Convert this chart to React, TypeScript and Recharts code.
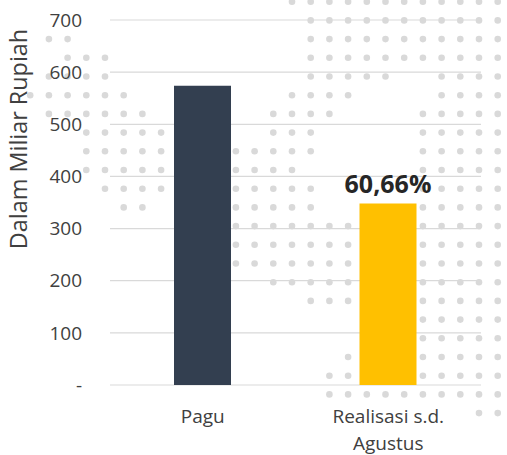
import React from "react";
import { BarChart, Bar, XAxis, YAxis, CartesianGrid, LabelList, Cell } from "recharts";

// data (Miliar Rupiah)
const categories = ["Pagu", "Realisasi s.d. Agustus"];
const categoryLines = [["Pagu"], ["Realisasi s.d.", "Agustus"]];
const amounts = [574, 348];
const pctLabels = ["", "60,66%"];
const barColors = ["#333F50", "#FFC000"];
const yTicks = [0, 100, 200, 300, 400, 500, 600, 700];
const yTitle = "Dalam Miliar Rupiah";

const data = categories.map((name, i) => ({ name, value: amounts[i], pct: pctLabels[i] }));

// decorative dot background: per row, runs of column indexes
const DOT_X0 = 105;
const DOT_Y0 = 1.7;
const DOT_STEP = 18.7;
const dotRows: number[][][] = [
  [[10, 21]],
  [[11, 21]],
  [[-3, -2], [11, 21]],
  [[-2, 0], [11, 21]],
  [[-3, 0], [11, 15], [18, 21]],
  [[-4, 1], [10, 13], [18, 21]],
  [[-3, 2], [9, 12], [17, 21]],
  [[-1, 3], [9, 11], [17, 21]],
  [[-1, 3], [7, 11], [17, 21]],
  [[-1, 3], [7, 10], [17, 21]],
  [[0, 3], [7, 11], [17, 21]],
  [[1, 2], [7, 11], [17, 21]],
  [[7, 13], [17, 21]],
  [[7, 13], [17, 21]],
  [[7, 13], [17, 21]],
  [[9, 13], [17, 21]],
  [[11, 13], [17, 21]],
  [[17, 21]],
  [[17, 21]],
  [[13, 13], [17, 21]],
  [[12, 13], [17, 21]],
  [[12, 21]],
  [[20, 21]],
];

const FONT = "'Open Sans', 'Liberation Sans', sans-serif";
const W = 507;
const H = 455;

const Dots = () => {
  const out: React.ReactNode[] = [];
  dotRows.forEach((runs, r) => {
    runs.forEach(([a, b]) => {
      for (let k = a; k <= b; k++) {
        out.push(
          <circle key={`${r}-${k}`} cx={DOT_X0 + k * DOT_STEP} cy={DOT_Y0 + r * DOT_STEP} r={3.3} fill="#d9d9d9" />
        );
      }
    });
  });
  return (
    <svg width={W} height={H} style={{ position: "absolute", left: 0, top: 0 }}>
      {out}
    </svg>
  );
};

const XTick = ({ x, y, payload }: any) => {
  const idx = categories.indexOf(payload.value);
  const lines = categoryLines[idx] || [payload.value];
  return (
    <text x={x} y={y} textAnchor="middle" fill="#404040" fontSize={19} fontFamily={FONT}>
      {lines.map((ln, i) => (
        <tspan key={ln} x={x} dy={i === 0 ? "0.71em" : 27}>
          {ln}
        </tspan>
      ))}
    </text>
  );
};

export default function App() {
  return (
    <div style={{ position: "absolute", left: 0, top: 0, width: W, height: H, background: "#fff" }}>
      <Dots />
      <div style={{ position: "absolute", left: 0, top: 0 }}>
        <BarChart width={W} height={H} data={data} margin={{ top: 20, right: 26, bottom: 0, left: 0 }}>
          <CartesianGrid vertical={false} stroke="#d9d9d9" strokeWidth={1.2} />
          <XAxis
            dataKey="name"
            height={70}
            axisLine={false}
            tickLine={false}
            tickSize={0}
            tickMargin={25}
            interval={0}
            tick={<XTick />}
          />
          <YAxis
            width={110}
            domain={[0, 700]}
            ticks={yTicks}
            axisLine={false}
            tickLine={false}
            tickSize={0}
            tickMargin={28}
            tickFormatter={(v: number) => (v === 0 ? "-" : String(v))}
            tick={{ fill: "#404040", fontSize: 19, fontFamily: FONT }}
            label={{
              content: () => (
                <text
                  transform="translate(18, 139) rotate(-90)"
                  textAnchor="middle"
                  dominantBaseline="central"
                  fill="#404040"
                  fontSize={23.4}
                  fontFamily={FONT}
                >
                  {yTitle}
                </text>
              ),
            }}
          />
          <Bar dataKey="value" barSize={57} isAnimationActive={false}>
            {data.map((d, i) => (
              <Cell key={d.name} fill={barColors[i]} />
            ))}
            <LabelList
              dataKey="pct"
              position="top"
              offset={11}
              fill="#262626"
              fontSize={25}
              fontWeight="bold"
              fontFamily={FONT}
            />
          </Bar>
        </BarChart>
      </div>
    </div>
  );
}
